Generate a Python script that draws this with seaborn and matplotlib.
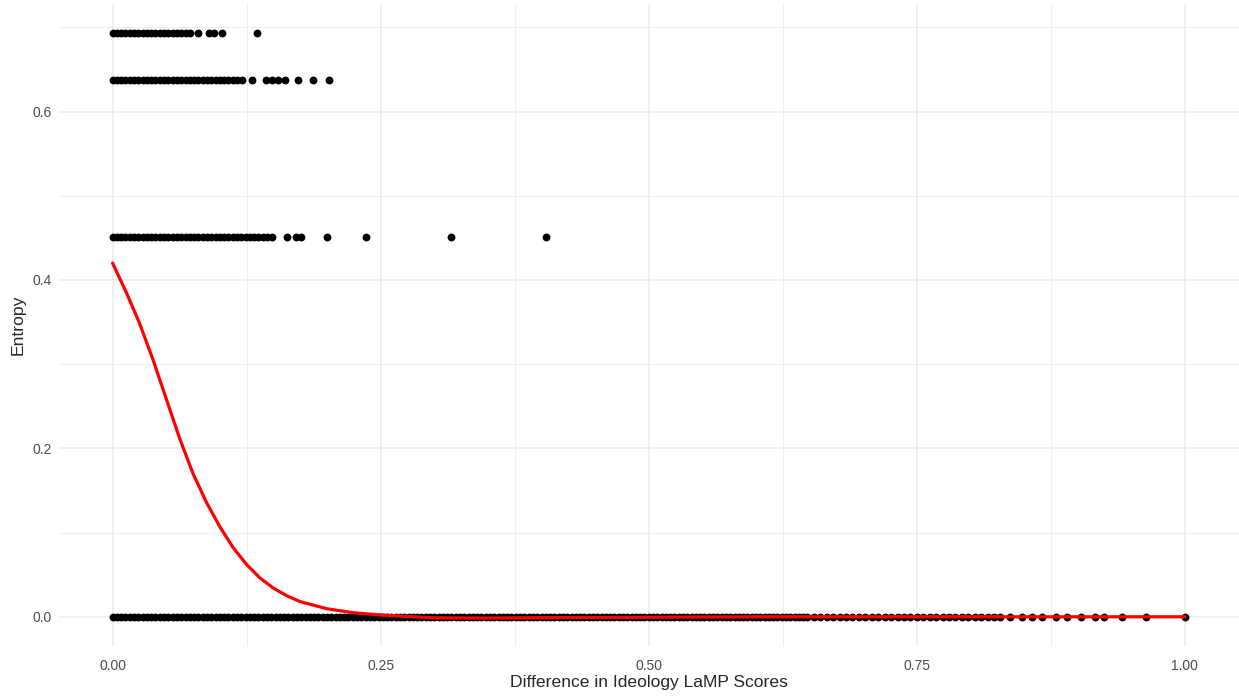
import seaborn as sns
import matplotlib.pyplot as plt
import pandas as pd
from matplotlib.ticker import FixedLocator

# entropy levels seen in the plot
levels = [0.0, 0.451, 0.637, 0.693]

# x positions (difference in LaMP scores) for each entropy level
x_top = [0.000, 0.004, 0.008, 0.012, 0.016, 0.020, 0.024, 0.028, 0.032, 0.036,
         0.040, 0.044, 0.048, 0.052, 0.056, 0.060, 0.064, 0.068, 0.072, 0.080,
         0.090, 0.095, 0.102, 0.135]
x_second = [0.000, 0.004, 0.008, 0.012, 0.016, 0.020, 0.024, 0.028, 0.032, 0.036,
            0.040, 0.044, 0.048, 0.052, 0.056, 0.060, 0.064, 0.068, 0.072, 0.076,
            0.080, 0.084, 0.088, 0.092, 0.096, 0.100, 0.104, 0.108, 0.112, 0.116,
            0.121, 0.130, 0.143, 0.149, 0.154, 0.161, 0.173, 0.187, 0.202]
x_mid = [0.000, 0.004, 0.008, 0.012, 0.016, 0.020, 0.024, 0.028, 0.032, 0.036,
         0.040, 0.044, 0.048, 0.052, 0.056, 0.060, 0.064, 0.068, 0.072, 0.076,
         0.080, 0.084, 0.088, 0.092, 0.096, 0.100, 0.104, 0.108, 0.112, 0.116,
         0.120, 0.124, 0.128, 0.132, 0.136, 0.140, 0.144, 0.149, 0.163, 0.171,
         0.176, 0.200, 0.236, 0.316, 0.404]
x_zero = [0.000, 0.004, 0.008, 0.012, 0.016, 0.020, 0.024, 0.028, 0.032, 0.036,
          0.040, 0.044, 0.048, 0.052, 0.056, 0.060, 0.064, 0.068, 0.072, 0.076,
          0.080, 0.084, 0.088, 0.092, 0.096, 0.100, 0.104, 0.108, 0.112, 0.116,
          0.120, 0.124, 0.128, 0.132, 0.136, 0.140, 0.144, 0.148, 0.152, 0.156,
          0.160, 0.164, 0.168, 0.172, 0.176, 0.180, 0.184, 0.188, 0.192, 0.196,
          0.200, 0.204, 0.208, 0.212, 0.216, 0.220, 0.224, 0.228, 0.232, 0.236,
          0.240, 0.244, 0.248, 0.252, 0.256, 0.260, 0.264, 0.268, 0.272, 0.276,
          0.280, 0.284, 0.288, 0.292, 0.296, 0.300, 0.304, 0.308, 0.312, 0.316,
          0.320, 0.324, 0.328, 0.332, 0.336, 0.340, 0.344, 0.348, 0.352, 0.356,
          0.360, 0.364, 0.368, 0.372, 0.376, 0.380, 0.384, 0.388, 0.392, 0.396,
          0.400, 0.404, 0.408, 0.412, 0.416, 0.420, 0.424, 0.428, 0.432, 0.436,
          0.440, 0.444, 0.448, 0.452, 0.456, 0.460, 0.464, 0.468, 0.472, 0.476,
          0.480, 0.484, 0.488, 0.492, 0.496, 0.500, 0.504, 0.508, 0.512, 0.516,
          0.520, 0.524, 0.528, 0.532, 0.536, 0.540, 0.544, 0.548, 0.552, 0.556,
          0.560, 0.564, 0.568, 0.572, 0.576, 0.580, 0.584, 0.588, 0.592, 0.596,
          0.600, 0.604, 0.608, 0.612, 0.616, 0.620, 0.624, 0.628, 0.632, 0.636,
          0.640, 0.644, 0.648, 0.654, 0.660, 0.666, 0.672, 0.678, 0.684, 0.690,
          0.696, 0.702, 0.708, 0.714, 0.720, 0.726, 0.732, 0.738, 0.744, 0.750,
          0.756, 0.762, 0.768, 0.774, 0.780, 0.786, 0.792, 0.798, 0.804, 0.810,
          0.816, 0.822, 0.828, 0.837, 0.848, 0.857, 0.867, 0.880, 0.890, 0.903,
          0.916, 0.925, 0.941, 0.964, 1.000]

# red smoothed curve, read at these x positions
smooth_x = [0.000, 0.0125, 0.025, 0.0375, 0.050, 0.0625, 0.075, 0.0875, 0.100,
            0.1125, 0.125, 0.1375, 0.150, 0.1625, 0.175, 0.200, 0.225, 0.250,
            0.275, 0.300, 0.350, 0.400, 0.500, 0.600, 0.700, 0.800, 0.900, 1.000]
smooth_y = [0.420, 0.386, 0.349, 0.306, 0.259, 0.212, 0.170, 0.136, 0.107,
            0.082, 0.062, 0.046, 0.034, 0.025, 0.018, 0.0095, 0.0048, 0.0022,
            0.0004, -0.0012, -0.0015, -0.001, -0.0005, 0.000, 0.000, 0.000,
            0.000, 0.000]

xs = x_zero + x_mid + x_second + x_top
ys = ([levels[0]] * len(x_zero) + [levels[1]] * len(x_mid)
      + [levels[2]] * len(x_second) + [levels[3]] * len(x_top))
df = pd.DataFrame({'diff': xs, 'entropy': ys})
smooth = pd.DataFrame({'diff': smooth_x, 'entropy': smooth_y})

sns.set_style('white')
plt.rcParams['font.family'] = ['Liberation Sans', 'DejaVu Sans']

fig = plt.figure(figsize=(12.39, 6.96), dpi=100)
ax = fig.add_axes([0.0476, 0.0718, 0.952, 0.9225])

sns.scatterplot(data=df, x='diff', y='entropy', color='black', s=32,
                linewidth=0, ax=ax, zorder=3)
sns.lineplot(data=smooth, x='diff', y='entropy', color='#FF0000', linewidth=2.3,
             sort=True, estimator=None, ax=ax, zorder=4)

ax.set_xlim(-0.05, 1.05)
ax.set_ylim(-0.0347, 0.7277)

ax.set_xticks([0.0, 0.25, 0.5, 0.75, 1.0])
ax.set_xticklabels(['0.00', '0.25', '0.50', '0.75', '1.00'])
ax.set_yticks([0.0, 0.2, 0.4, 0.6])
ax.set_yticklabels(['0.0', '0.2', '0.4', '0.6'])
ax.xaxis.set_minor_locator(FixedLocator([0.125, 0.375, 0.625, 0.875]))
ax.yaxis.set_minor_locator(FixedLocator([0.1, 0.3, 0.5, 0.7]))

ax.grid(which='major', color='#EBEBEB', linewidth=1.1)
ax.grid(which='minor', color='#EBEBEB', linewidth=0.6)
ax.set_axisbelow(True)
for s in ax.spines.values():
    s.set_visible(False)

ax.tick_params(axis='both', which='both', length=0, labelsize=10,
               labelcolor='#4D4D4D')
ax.tick_params(axis='x', pad=9)
ax.tick_params(axis='y', pad=5)

ax.set_xlabel('Difference in Ideology LaMP Scores', fontsize=12.6, labelpad=2)
ax.set_ylabel('Entropy', fontsize=12.6, labelpad=5)

plt.savefig('out.png', dpi=100)
